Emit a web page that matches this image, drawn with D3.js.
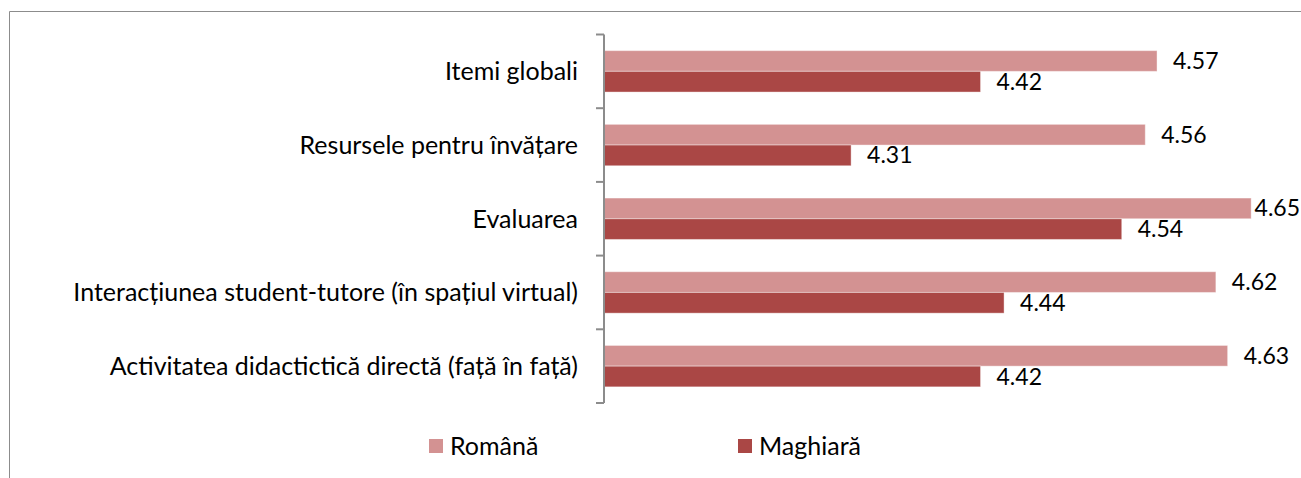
<!DOCTYPE html>
<html>
<head>
<meta charset="utf-8">
<script src="https://cdn.jsdelivr.net/npm/d3@7"></script>
<style>
  body { margin: 0; background: #fff; }
  text { font-family: Lato, "Open Sans", sans-serif; fill: #000; }
</style>
</head>
<body>
<svg id="chart" width="1301" height="478"></svg>
<script>
// categories, top to bottom
const categories = [
  "Itemi globali",
  "Resursele pentru învățare",
  "Evaluarea",
  "Interacțiunea student-tutore (în spațiul virtual)",
  "Activitatea didactictică directă (față în față)"
];
const series = ["Română", "Maghiară"];
const romana = [4.57, 4.56, 4.65, 4.62, 4.63];
const maghiara = [4.42, 4.31, 4.54, 4.44, 4.42];
const colors = ["#d39292", "#aa4745"];

const data = categories.map((c, i) => ({ category: c, values: [romana[i], maghiara[i]] }));

const width = 1301, height = 478;
const svg = d3.select("#chart");
const valueSize = 23;
const labelSize = 25;

// outer frame (chart area, cut off at right/bottom)
svg.append("path")
  .attr("d", `M9.5,${height + 5} V11.5 H${width + 5}`)
  .attr("fill", "none")
  .attr("stroke", "#8c8c8c")
  .attr("stroke-width", 1);

const plotLeft = 604, plotTop = 34.5, plotBottom = 403;

const x = d3.scaleLinear().domain([4.1, 4.7]).range([plotLeft, 1310]);
const y0 = d3.scaleBand().domain(categories).range([plotTop, plotBottom]).paddingInner(0).paddingOuter(0);
const y1 = d3.scaleBand().domain(series).range([0, y0.bandwidth()]).paddingInner(0).paddingOuter(0.78);

// bars
const groups = svg.append("g").selectAll("g")
  .data(data)
  .join("g")
  .attr("transform", d => `translate(0,${y0(d.category)})`);

groups.selectAll("rect")
  .data(d => d.values.map((v, i) => ({ series: series[i], value: v, i })))
  .join("rect")
  .attr("x", plotLeft)
  .attr("y", d => y1(d.series))
  .attr("width", d => x(d.value) - plotLeft)
  .attr("height", y1.bandwidth())
  .attr("fill", d => colors[d.i])
  .attr("stroke", "#fff")
  .attr("stroke-opacity", 0.4)
  .attr("stroke-width", 1);

// value labels (kept inside the chart area like Excel does)
groups.selectAll("text.val")
  .data(d => d.values.map((v, i) => ({ series: series[i], value: v, i })))
  .join("text")
  .attr("class", "val")
  .attr("x", d => x(d.value) + 16)
  .attr("y", d => y1(d.series) + y1.bandwidth() / 2)
  .attr("dy", "0.35em")
  .style("font-size", valueSize + "px")
  .text(d => d.value.toFixed(2))
  .each(function() {
    const w = this.getComputedTextLength();
    const xx = +this.getAttribute("x");
    if (xx + w > width - 1) this.setAttribute("x", width - 1 - w);
  });

// category axis
const yAxis = svg.append("g")
  .attr("transform", `translate(${plotLeft},0)`);

yAxis.append("line")
  .attr("x1", 0).attr("x2", 0)
  .attr("y1", plotTop).attr("y2", plotBottom)
  .attr("stroke", "#8c8c8c").attr("stroke-width", 2);

const tickYs = categories.map(c => y0(c)).concat([plotBottom]);
yAxis.selectAll("line.tick")
  .data(tickYs)
  .join("line")
  .attr("class", "tick")
  .attr("x1", -8).attr("x2", 0)
  .attr("y1", d => d).attr("y2", d => d)
  .attr("stroke", "#8c8c8c").attr("stroke-width", 2);

yAxis.selectAll("text")
  .data(categories)
  .join("text")
  .attr("x", -26)
  .attr("y", d => y0(d) + y0.bandwidth() / 2)
  .attr("dy", "0.35em")
  .attr("text-anchor", "end")
  .style("font-size", labelSize + "px")
  .text(d => d);

// legend
const legendX = [429, 738];
const legend = svg.append("g").selectAll("g")
  .data(series)
  .join("g")
  .attr("transform", (d, i) => `translate(${legendX[i]},439)`);

legend.append("rect")
  .attr("width", 14).attr("height", 14)
  .attr("fill", (d, i) => colors[i]);

legend.append("text")
  .attr("x", 21)
  .attr("y", 7)
  .attr("dy", "0.35em")
  .style("font-size", labelSize + "px")
  .text(d => d);
</script>
</body>
</html>
